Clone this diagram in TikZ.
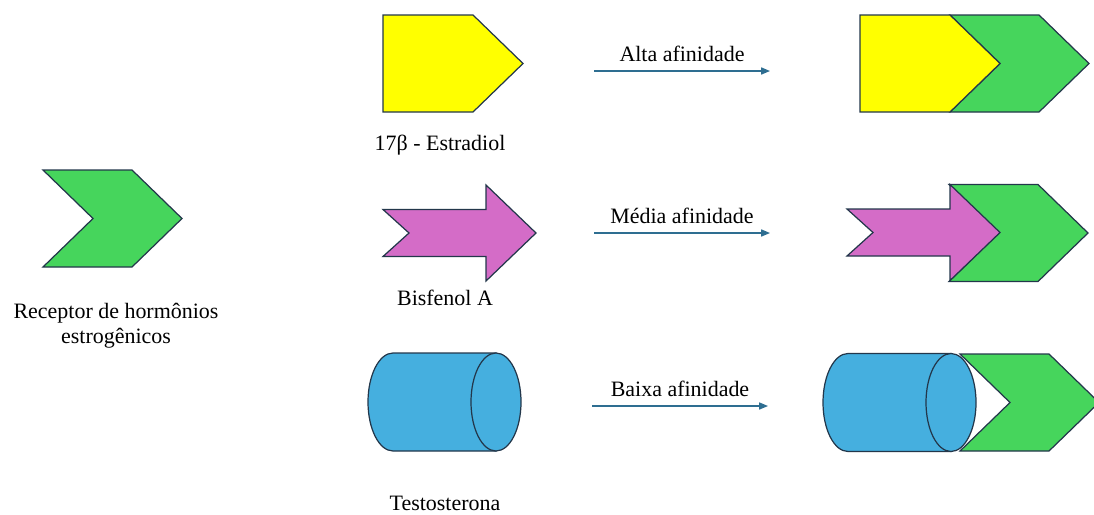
\documentclass[tikz,border=0pt]{standalone}
\usepackage{fontspec}
\setmainfont{Liberation Serif}
\usetikzlibrary{arrows.meta,positioning}

\definecolor{recgreen}{RGB}{70,213,92}
\definecolor{estyellow}{RGB}{255,255,0}
\definecolor{bismagenta}{RGB}{212,108,199}
\definecolor{testblue}{RGB}{69,175,223}
\definecolor{edgeline}{RGB}{35,55,75}
\definecolor{bindline}{RGB}{46,110,145}

\tikzset{
  outline/.style={draw=edgeline, line width=0.7pt, line join=miter},
  receptor/.pic={\draw[outline, fill=recgreen] (0,0) -- (89,0) -- (139,48.5) -- (89,97) -- (0,97) -- (50,48.5) -- cycle;},
  estradiol/.pic={\draw[outline, fill=estyellow] (0,0) -- (90,0) -- (140,48.5) -- (90,97) -- (0,97) -- cycle;},
  bisphenol/.pic={\draw[outline, fill=bismagenta] (0,24.5) -- (103,24.5) -- (103,0) -- (153,48) -- (103,96) -- (103,71.5) -- (0,71.5) -- (26,48) -- cycle;},
  testosterone/.pic={
    \draw[outline, fill=testblue] (0,-49) -- (103,-49) -- (103,49) -- (0,49) arc[start angle=90, end angle=270, x radius=25, y radius=49] -- cycle;
    \draw[outline, fill=testblue] (103,0) ellipse[x radius=25, y radius=49];}
}

\begin{document}
\begin{tikzpicture}[x=0.02cm, y=-0.02cm,
  txt/.style={font=\fontsize{12.5}{14.3}\selectfont\rmfamily, inner sep=1pt},
  bind/.style={draw=bindline, line width=0.7pt, -{Triangle[length=5pt, width=4pt]}}]
\useasboundingbox (0,0) rectangle (1094,514);

%Shapes
\pic at (43,170) {receptor};
\pic at (383,15) {estradiol};
\pic at (383,185) {bisphenol};
\pic at (393,402) {testosterone};

\pic at (950,15) {receptor};
\pic at (860,15) {estradiol};
\pic at (949,184.5) {receptor};
\pic at (847,184.5) {bisphenol};
\pic at (960,354) {receptor};
\pic at (848,402.5) {testosterone};

%Nodes
\node[txt, align=center] (reclabel) at (116,326) {Receptor de hormônios\\estrogênicos};
\node[txt] (estlabel)  at (440,145) {17β - Estradiol};
\node[txt] (bislabel)  at (445,298) {Bisfenol A};
\node[txt] (testlabel) at (445,503) {Testosterona};

\coordinate (altas)  at (594,71);
\coordinate (altae)  at (770,71);
\coordinate (medias) at (594,233);
\coordinate (mediae) at (770,233);
\coordinate (baixas) at (592,406);
\coordinate (baixae) at (768,406);

%Lines
\draw[bind] (altas) -- (altae) node[txt, midway, above=4pt] (alta) {Alta afinidade};
\draw[bind] (medias) -- (mediae) node[txt, midway, above=4pt] (media) {Média afinidade};
\draw[bind] (baixas) -- (baixae) node[txt, midway, above=4pt] (baixa) {Baixa afinidade};

\end{tikzpicture}
\end{document}
